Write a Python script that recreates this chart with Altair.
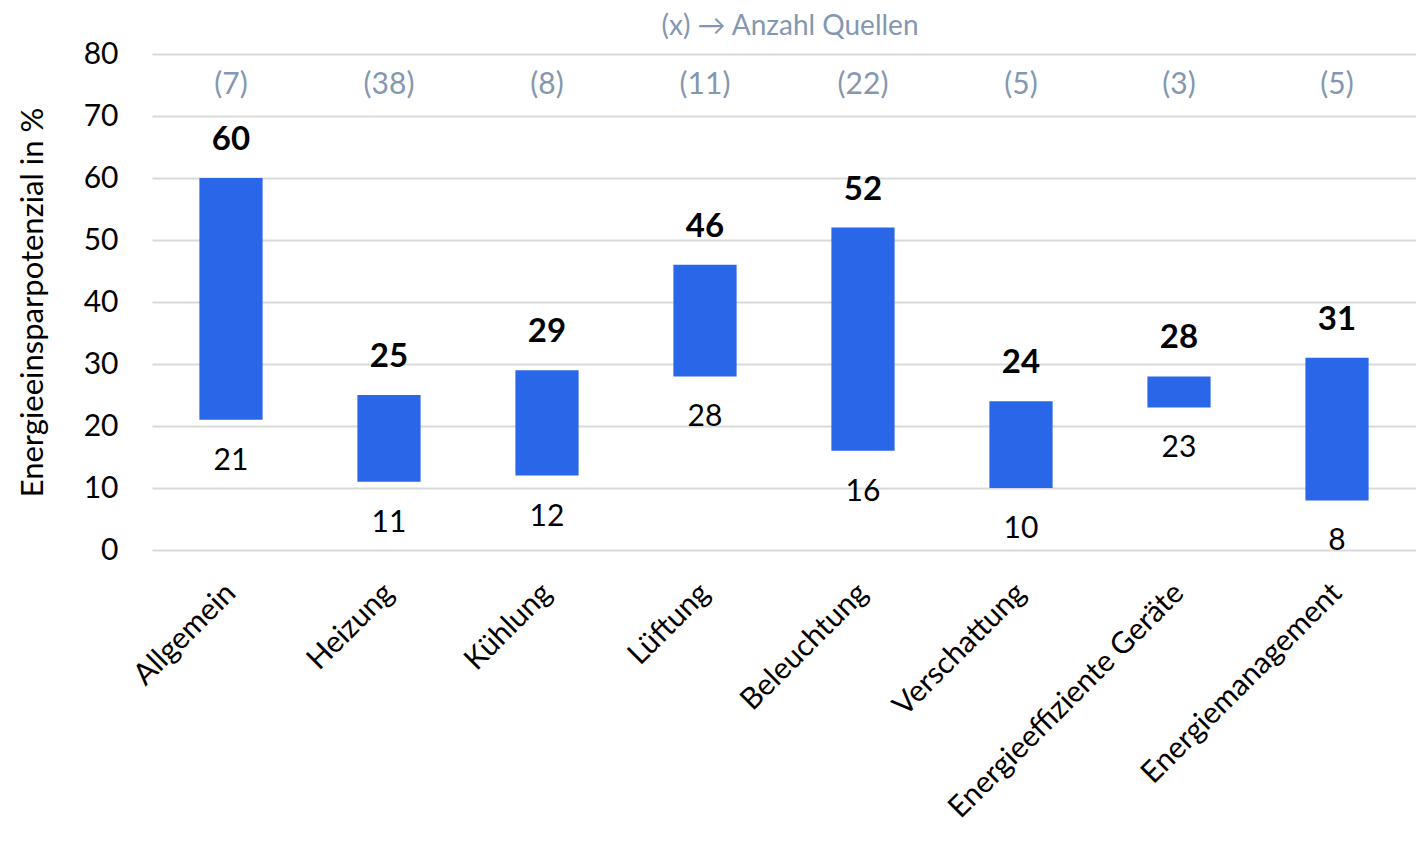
import altair as alt
import pandas as pd

categories = ["Allgemein", "Heizung", "Kühlung", "Lüftung", "Beleuchtung",
              "Verschattung", "Energieeffiziente Geräte", "Energiemanagement"]
low_values = [21, 11, 12, 28, 16, 10, 23, 8]
high_values = [60, 25, 29, 46, 52, 24, 28, 31]
source_counts = [7, 38, 8, 11, 22, 5, 3, 5]
title_text = "(x) → Anzahl Quellen"

df = pd.DataFrame({
    "cat": categories,
    "low": low_values,
    "high": high_values,
    "src": [f"({n})" for n in source_counts],
    "srcpos": [75] * len(categories),
})

FONT = "Lato"
x = alt.X("cat:N", sort=categories, title=None,
          scale=alt.Scale(paddingInner=0.6, paddingOuter=0.3),
          axis=alt.Axis(labelAngle=-45, labelAlign="right", labelBaseline="middle",
                        labelFontSize=30, labelFont=FONT, labelColor="black",
                        labelPadding=38, ticks=False, domain=False, labelLimit=500))

base = alt.Chart(df).encode(x=x)

bars = base.mark_bar(color="#2A66E8").encode(
    y=alt.Y("low:Q", scale=alt.Scale(domain=[0, 80]),
            title="Energieeinsparpotenzial in %",
            axis=alt.Axis(values=[0, 10, 20, 30, 40, 50, 60, 70, 80],
                          labelFontSize=30, labelFont=FONT, labelColor="black",
                          labelPadding=34, ticks=False, domain=False,
                          gridColor="#D9D9D9", gridWidth=2,
                          titleFontSize=31, titleFont=FONT, titleColor="black",
                          titleFontWeight="normal", titlePadding=34)),
    y2="high:Q",
)

top_lbl = base.mark_text(font=FONT, fontSize=33, fontWeight="bold", color="black",
                         dy=-38).encode(y="high:Q", text="high:Q")
low_lbl = base.mark_text(font=FONT, fontSize=30, color="black",
                         dy=41).encode(y="low:Q", text="low:Q")
src_lbl = base.mark_text(font=FONT, fontSize=30, color="#8497B0").encode(
    y="srcpos:Q", text="src:N")

title_mark = alt.Chart(pd.DataFrame({"t": [title_text]})).mark_text(
    font=FONT, fontSize=28, color="#8497B0").encode(
    text="t:N", x=alt.value(638), y=alt.value(-27))

chart = alt.layer(bars, top_lbl, low_lbl, src_lbl, title_mark).properties(
    width=1264, height=496,
    autosize=alt.AutoSizeParams(type="none"),
    padding={"left": 144, "top": 46, "right": 0, "bottom": 290},
).configure_view(stroke=None)

chart.save("out.html", embed_options={"renderer": "svg", "actions": False})
